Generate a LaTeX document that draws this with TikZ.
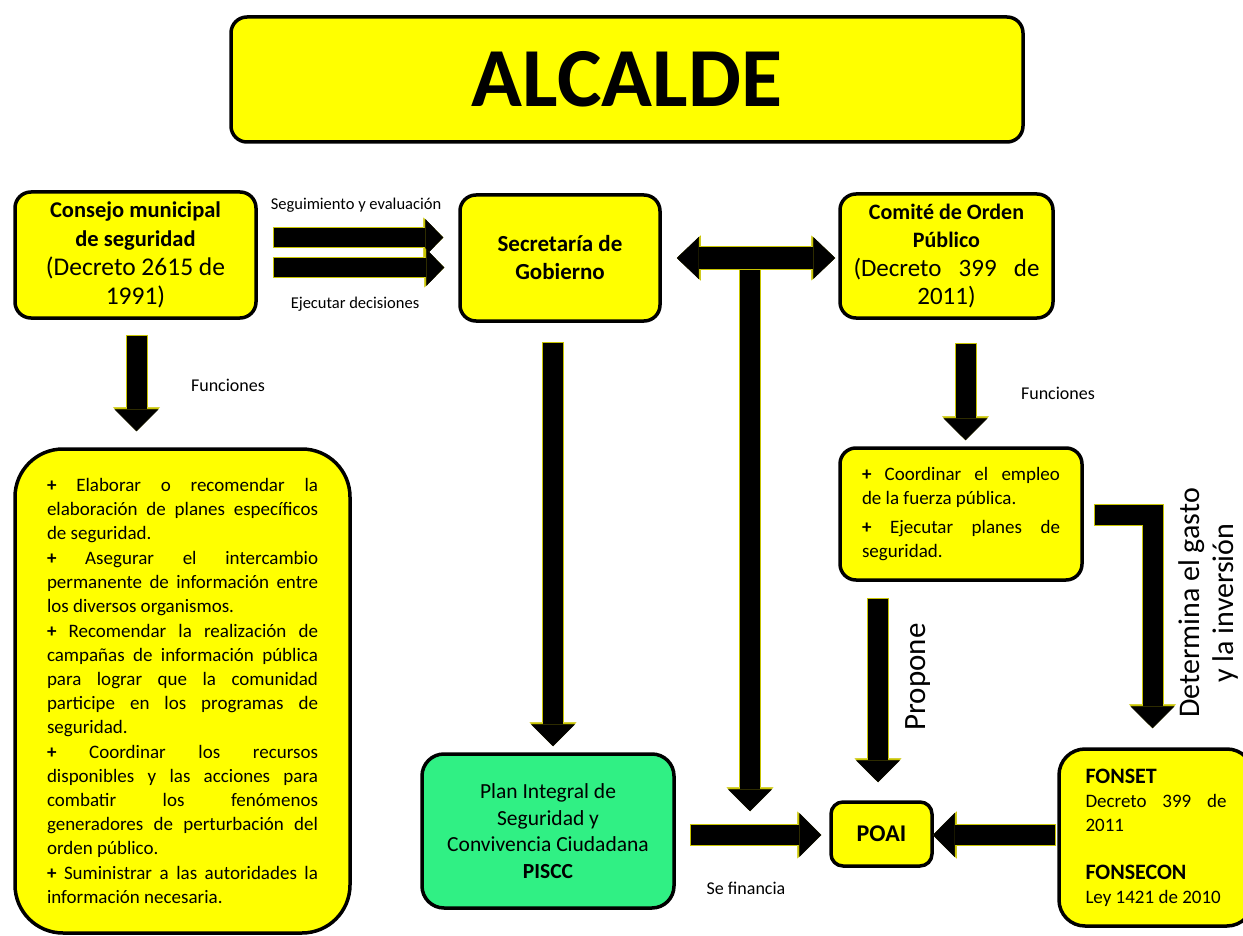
\documentclass[tikz,border=0pt]{standalone}
\usepackage{fontspec}
\setmainfont{Carlito}
\usepackage{tikz}
\usetikzlibrary{arrows.meta,calc}
\definecolor{amar}{HTML}{FFFF00}
\definecolor{verde}{HTML}{30F084}
\definecolor{borde}{HTML}{C8C400}
\hyphenpenalty=10000
\exhyphenpenalty=10000

\begin{document}
\begin{tikzpicture}[x=1pt,y=-1pt,
   caja/.style={draw=black,line width=3.5pt,fill=#1,rounded corners=16pt,align=center,inner sep=4pt},
   caja/.default=amar,
   flecha/.style={line width=20pt,black,-{Triangle[length=22pt,width=44pt,line width=0.5pt]},
      preaction={draw=borde,line width=22pt,shorten <=-1pt,-{Triangle[length=24pt,width=47pt,line width=0.5pt]}}},
   flechaf/.style={line width=19pt,black,-{Triangle[length=18pt,width=37pt,line width=0.5pt]},
      preaction={draw=borde,line width=21pt,shorten <=-1pt,-{Triangle[length=20pt,width=40pt,line width=0.5pt]}}},
   dflecha/.style={line width=22pt,black,{Triangle[length=22pt,width=42pt,line width=0.5pt]}-{Triangle[length=22pt,width=42pt,line width=0.5pt]},
      preaction={draw=borde,line width=24pt,{Triangle[length=24pt,width=45pt,line width=0.5pt]}-{Triangle[length=24pt,width=45pt,line width=0.5pt]}}},
   etq/.style={font=\fontsize{16.5}{20}\selectfont}]
  \useasboundingbox (0,0) rectangle (1243,936);

  % cajas
  \node[caja,minimum width=792pt,minimum height=125pt,font=\bfseries\fontsize{84}{90}\selectfont] (alcalde) at (627,79.5) {ALCALDE};
  \node[caja,minimum width=241pt,minimum height=126pt,font=\fontsize{25.5}{29}\selectfont] (consejo) at (135.5,255)
    {\fontsize{22.5}{29}\selectfont\bfseries Consejo municipal\\\fontsize{22.5}{29}\selectfont\bfseries de seguridad\\(Decreto 2615 de\\1991)};
  \node[caja,minimum width=200pt,minimum height=126pt,font=\bfseries\fontsize{23}{28}\selectfont] (secretaria) at (560,258)
    {Secretaría de\\Gobierno};
  \node[caja,minimum width=213pt,minimum height=124pt,font=\fontsize{25}{28.5}\selectfont] (comite) at (946.5,256)
    {\fontsize{22}{28.5}\selectfont\bfseries Comité de Orden\\\fontsize{22}{28.5}\selectfont\bfseries Público\\\makebox[186pt][s]{(Decreto 399 de}\\2011)};
  \node[caja,rounded corners=48pt,minimum width=335pt,minimum height=484pt,text width=271pt,align=justify,
        font=\fontsize{19}{24}\selectfont] (funcL) at (182.5,691)
    {\parindent=0pt\parskip=1pt
     \textbf{+} Elaborar o recomendar la\linebreak elaboración de planes específicos\linebreak de seguridad.\par
     \textbf{+} Asegurar el intercambio\linebreak permanente de información entre\linebreak los diversos organismos.\par
     \textbf{+} Recomendar la realización de\linebreak campañas de información pública\linebreak para lograr que la comunidad\linebreak participe en los programas de\linebreak seguridad.\par
     \textbf{+} Coordinar los recursos\linebreak disponibles y las acciones para\linebreak combatir los fenómenos\linebreak generadores de perturbación del\linebreak orden público.\par
     \textbf{+} Suministrar a las autoridades la\linebreak información necesaria.};
  \node[caja,minimum width=242pt,minimum height=132pt,text width=198pt,align=justify,
        font=\fontsize{19}{24}\selectfont] (funcR) at (961,514)
    {\parindent=0pt\parskip=5pt
     \textbf{+} Coordinar el empleo\linebreak de la fuerza pública.\par
     \textbf{+} Ejecutar planes de\linebreak seguridad.};
  \node[caja=verde,rounded corners=22pt,minimum width=252pt,minimum height=154pt,
        font=\fontsize{21.5}{26.5}\selectfont] (piscc) at (548,831)
    {Plan Integral de\\Seguridad y\\Convivencia Ciudadana\\\bfseries PISCC};
  \node[caja,rounded corners=12pt,minimum width=101pt,minimum height=64pt,font=\bfseries\fontsize{24}{28}\selectfont] (poai) at (881.5,834) {POAI};
  \node[caja,rounded corners=26pt,minimum width=194pt,minimum height=177pt,text width=141pt,align=justify,
        font=\fontsize{19}{24}\selectfont] (fonset) at (1156,837.5)
    {\parindent=0pt
     {\bfseries\fontsize{22}{24}\selectfont FONSET}\\
     Decreto 399 de\linebreak 2011\\[24pt]
     {\bfseries\fontsize{22}{24}\selectfont FONSECON}\\
     Ley 1421 de 2010};

  % textos de las flechas
  \node[etq] (lblseg) at (356,205) {Seguimiento y evaluación};
  \node[etq] (lblejec) at (355,304) {Ejecutar decisiones};
  \node[font=\fontsize{18}{22}\selectfont] (lblfunc1) at (228,385) {Funciones};
  \node[font=\fontsize{18}{22}\selectfont] (lblfunc2) at (1058,393) {Funciones};
  \node[font=\fontsize{18}{22}\selectfont] (lblfin) at (746,888) {Se financia};
  \node[rotate=90,font=\fontsize{31}{36}\selectfont] (lblprop) at (918,677) {Propone};
  \node[rotate=90,align=center,font=\fontsize{30}{34}\selectfont] (lbldet) at (1208,603) {Determina el gasto\\y la inversión};

  % flechas
  \draw[flechaf] ($(consejo.east)+(16,-17.5)$) -- ($(secretaria.west)+(-15,-20.5)$);
  \draw[flechaf] ($(consejo.east)+(16,12.5)$) -- ($(secretaria.west)+(-14,9.5)$);
  \coordinate (jn) at ($(secretaria.east)!.5!(comite.west)$);
  \draw[flecha] (jn) -- ($(jn |- poai.north)+(0,11)$);
  \draw[dflecha] ($(secretaria.east)+(15,0)$) -- ($(comite.west)+(-3,2)$);
  \draw[flecha] ($(secretaria.south)+(-7,20)$) -- ($(piscc.north)+(5,-6)$);
  \draw[flecha] ($(consejo.south)+(1,16)$) -- ($(consejo.south |- funcL.north)+(1,-16)$);
  \draw[flecha] ($(comite.south)+(19,24)$) -- ($(comite.south |- funcR.north)+(19,-6)$);
  \draw[flecha] ($(funcR.south)+(-83,17)$) -- ($(funcR.south |- poai.north)+(-83,-18)$);
  \draw[flecha] ($(piscc.east)+(15,4)$) -- ($(poai.west)+(-8,1)$);
  \draw[flecha] ($(fonset.west)+(-2,-2.5)$) -- ($(poai.east)+(-1,1)$);
  \draw[flecha] ($(funcR.east)+(11,1)$) -| ($(fonset.north)+(-3.5,-19)$);
\end{tikzpicture}
\end{document}
